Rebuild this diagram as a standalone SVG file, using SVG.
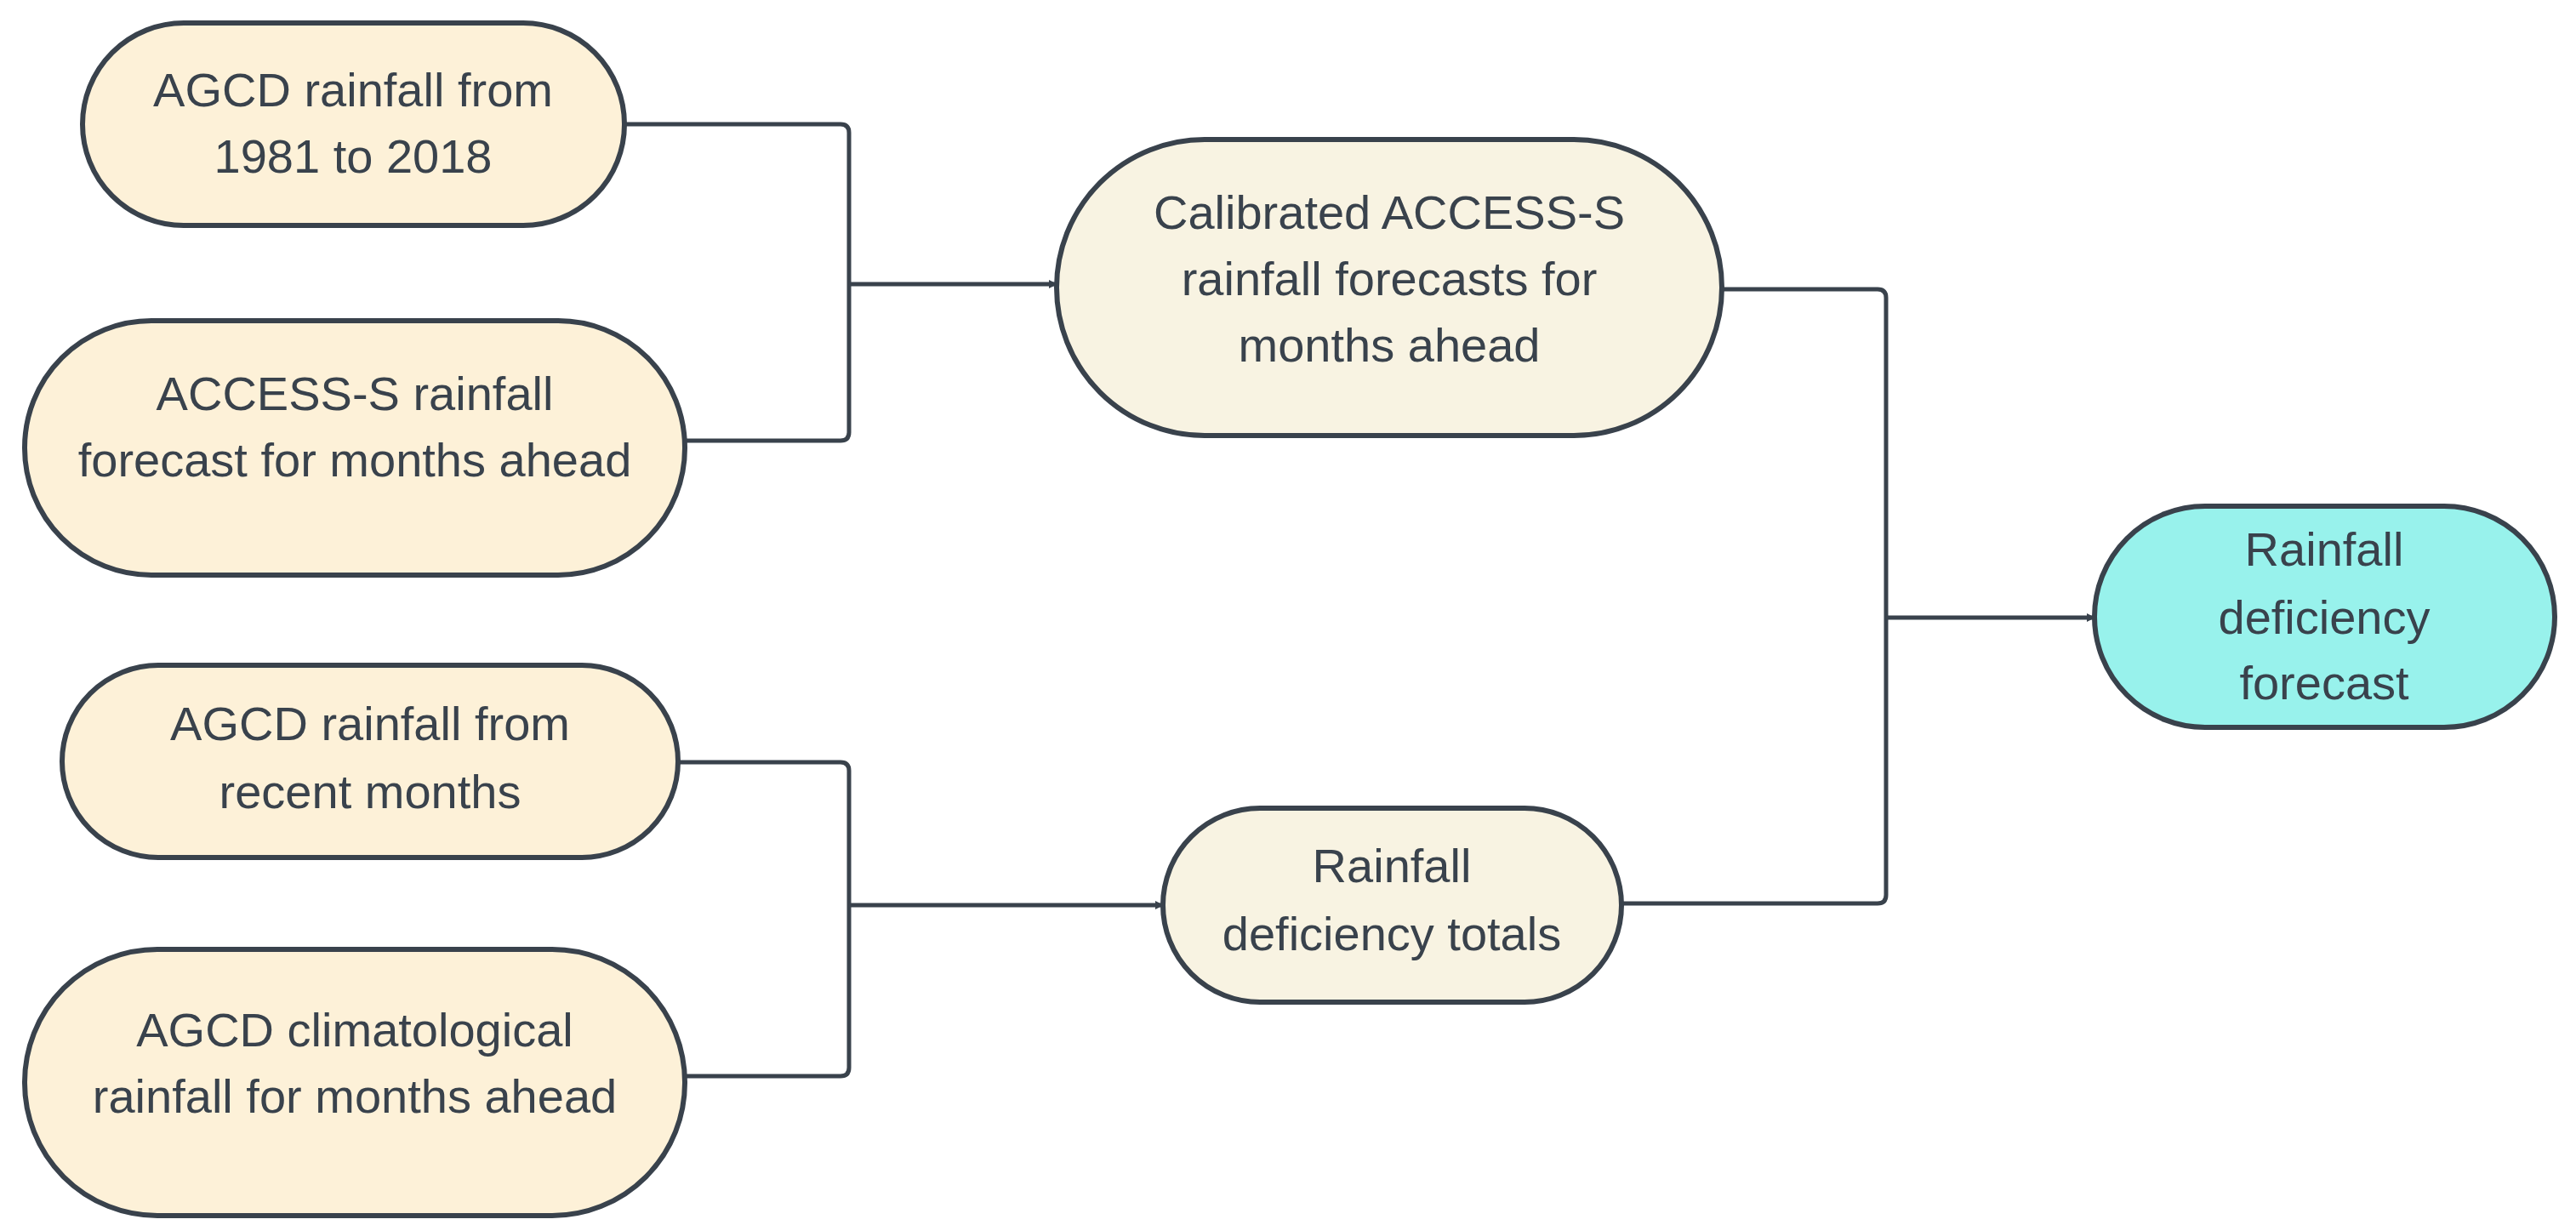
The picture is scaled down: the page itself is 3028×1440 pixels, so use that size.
<svg xmlns="http://www.w3.org/2000/svg" width="3028" height="1440" viewBox="0 0 3028 1440">
<style>
.n{stroke:#39424c;stroke-width:6}
.a{fill:#fdf1d8}.b{fill:#f8f3e2}.c{fill:#98f2ec}
text{font-family:"Liberation Sans",Arial,sans-serif;font-size:56px;fill:#39424c;text-anchor:middle}
.e{fill:none;stroke:#39424c;stroke-width:5;stroke-linejoin:round}
</style>
<defs><marker id="ar" markerWidth="10" markerHeight="10" refX="9" refY="5" orient="auto" markerUnits="userSpaceOnUse" viewBox="0 0 10 10"><path d="M0,0L10,5L0,10z" fill="#39424c"/></marker></defs>
<rect width="3028" height="1440" fill="#fff"/>
<g id="connectors">
<path class="e" d="M734,146H988Q998,146 998,156V508Q998,518 988,518H805"/>
<path class="e" d="M998,334H1242" marker-end="url(#ar)"/>
<path class="e" d="M797,896H988Q998,896 998,906V1255Q998,1265 988,1265H805"/>
<path class="e" d="M998,1064H1367" marker-end="url(#ar)"/>
<path class="e" d="M2024,340H2207Q2217,340 2217,350V1052Q2217,1062 2207,1062H1906"/>
<path class="e" d="M2217,726H2462" marker-end="url(#ar)"/>
</g>
<style>marker path{}</style>
<g id="n1"><rect class="n a" x="97" y="27" width="637" height="238" rx="119"/><text x="415" y="125">AGCD rainfall from</text><text x="415" y="203">1981 to 2018</text></g>
<g id="n2"><rect class="n a" x="29" y="377" width="776" height="299" rx="149"/><text x="417" y="482">ACCESS-S rainfall</text><text x="417" y="560">forecast for months ahead</text></g>
<g id="n3"><rect class="n a" x="73" y="782" width="724" height="226" rx="113"/><text x="435" y="870">AGCD rainfall from</text><text x="435" y="950">recent months</text></g>
<g id="n4"><rect class="n a" x="29" y="1116" width="776" height="313" rx="156"/><text x="417" y="1230">AGCD climatological</text><text x="417" y="1308">rainfall for months ahead</text></g>
<g id="c"><rect class="n b" x="1242" y="164" width="782" height="348" rx="174"/><text x="1633" y="269">Calibrated ACCESS-S</text><text x="1633" y="347">rainfall forecasts for</text><text x="1633" y="425">months ahead</text></g>
<g id="t"><rect class="n b" x="1367" y="950" width="539" height="228" rx="114"/><text x="1636" y="1037">Rainfall</text><text x="1636" y="1117">deficiency totals</text></g>
<g id="f"><rect class="n c" x="2462" y="595" width="541" height="260" rx="130"/><text x="2732" y="665">Rainfall</text><text x="2732" y="745">deficiency</text><text x="2732" y="822">forecast</text></g>
</svg>
